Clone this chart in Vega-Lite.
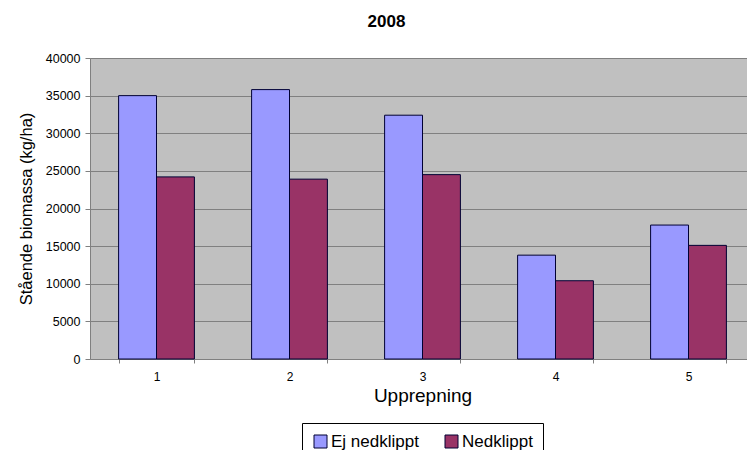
{
  "$schema": "https://vega.github.io/schema/vega-lite/v6.json",
  "width": 665,
  "height": 301,
  "autosize": {"type": "none"},
  "padding": {"left": 90, "top": 58, "right": 0, "bottom": 91},
  "background": "white",
  "title": {"text": "2008", "font": "Liberation Sans", "fontSize": 17, "fontWeight": "bold", "color": "#000", "anchor": "middle", "dx": -36, "offset": 21},
  "data": {"values": [
    {"rep": "1", "group": "Ej nedklippt", "value": 35000},
    {"rep": "1", "group": "Nedklippt", "value": 24200},
    {"rep": "2", "group": "Ej nedklippt", "value": 35800},
    {"rep": "2", "group": "Nedklippt", "value": 23900},
    {"rep": "3", "group": "Ej nedklippt", "value": 32400},
    {"rep": "3", "group": "Nedklippt", "value": 24500},
    {"rep": "4", "group": "Ej nedklippt", "value": 13800},
    {"rep": "4", "group": "Nedklippt", "value": 10400},
    {"rep": "5", "group": "Ej nedklippt", "value": 17800},
    {"rep": "5", "group": "Nedklippt", "value": 15100}
  ]},
  "mark": {"type": "bar", "stroke": "#000033", "strokeWidth": 1},
  "encoding": {
    "x": {"field": "rep", "type": "nominal", "title": "Upprepning",
      "scale": {"paddingInner": 0.43, "paddingOuter": 0.215},
      "axis": {"labelAngle": 0, "tickBand": "extent", "tickSize": 4, "tickColor": "#808080", "domainColor": "#808080", "labelFont": "Liberation Sans", "labelFontSize": 12, "labelColor": "#000", "labelPadding": 8, "titleFont": "Liberation Sans", "titleFontSize": 19, "titleFontWeight": "normal", "titleColor": "#000", "titlePadding": 4, "grid": false}},
    "xOffset": {"field": "group", "type": "nominal"},
    "y": {"field": "value", "type": "quantitative", "title": "Stående biomassa (kg/ha)",
      "scale": {"domain": [0, 40000], "nice": false},
      "axis": {"values": [0, 5000, 10000, 15000, 20000, 25000, 30000, 35000, 40000], "format": "d", "grid": true, "gridColor": "#808080", "gridOpacity": 1, "tickSize": 5, "tickColor": "#808080", "domainColor": "#808080", "labelFont": "Liberation Sans", "labelFontSize": 12.5, "labelColor": "#000", "labelPadding": 5, "titleFont": "Liberation Sans", "titleFontSize": 16.5, "titleFontWeight": "normal", "titleColor": "#000", "titlePadding": 11}},
    "color": {"field": "group", "type": "nominal", "title": null,
      "scale": {"domain": ["Ej nedklippt", "Nedklippt"], "range": ["#9999FF", "#993366"]},
      "legend": {"orient": "none", "legendX": 212, "legendY": 365, "direction": "horizontal", "columns": 2, "symbolType": "square", "symbolSize": 169, "symbolStrokeColor": "#000033", "symbolStrokeWidth": 1, "symbolOpacity": 1, "labelFont": "Liberation Sans", "labelFontSize": 17, "labelColor": "#000", "labelOffset": 2, "columnPadding": 24, "strokeColor": "#000", "padding": 10, "fillColor": "white", "labelLimit": 200}}
  },
  "config": {"view": {"fill": "#C0C0C0", "stroke": null}}
}
